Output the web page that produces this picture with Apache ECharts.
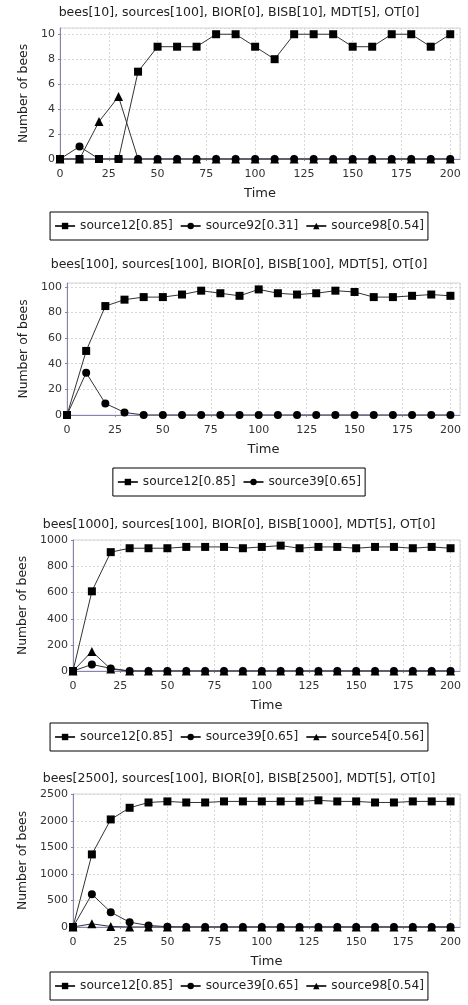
<!DOCTYPE html>
<html>
<head>
<meta charset="utf-8">
<script src="https://cdn.jsdelivr.net/npm/echarts@6/dist/echarts.min.js"></script>
<style>
  html, body { margin: 0; padding: 0; background: #fff; overflow: hidden; }
  #chart { width: 478px; height: 1005px; }
</style>
</head>
<body>
<div id="chart"></div>
<script>
// sample times (x axis)
const times = [0, 10, 20, 30, 40, 50, 60, 70, 80, 90, 100, 110, 120, 130, 140, 150, 160, 170, 180, 190, 200];

// panel 1: bees[10]
const p1Title = 'bees[10], sources[100], BIOR[0], BISB[10], MDT[5], OT[0]';
const p1Src12 = [0, 0, 0, 0, 7, 9, 9, 9, 10, 10, 9, 8, 10, 10, 10, 9, 9, 10, 10, 9, 10];
const p1Src92 = [0, 1, 0, 0, 0, 0, 0, 0, 0, 0, 0, 0, 0, 0, 0, 0, 0, 0, 0, 0, 0];
const p1Src98 = [0, 0, 3, 5, 0, 0, 0, 0, 0, 0, 0, 0, 0, 0, 0, 0, 0, 0, 0, 0, 0];

// panel 2: bees[100]
const p2Title = 'bees[100], sources[100], BIOR[0], BISB[100], MDT[5], OT[0]';
const p2Src12 = [0, 50, 85, 90, 92, 92, 94, 97, 95, 93, 98, 95, 94, 95, 97, 96, 92, 92, 93, 94, 93];
const p2Src39 = [0, 33, 9, 2, 0, 0, 0, 0, 0, 0, 0, 0, 0, 0, 0, 0, 0, 0, 0, 0, 0];

// panel 3: bees[1000]
const p3Title = 'bees[1000], sources[100], BIOR[0], BISB[1000], MDT[5], OT[0]';
const p3Src12 = [0, 610, 910, 940, 940, 940, 950, 950, 950, 940, 950, 960, 940, 950, 950, 940, 950, 950, 940, 950, 940];
const p3Src39 = [0, 50, 20, 0, 0, 0, 0, 0, 0, 0, 0, 0, 0, 0, 0, 0, 0, 0, 0, 0, 0];
const p3Src54 = [0, 150, 15, 0, 0, 0, 0, 0, 0, 0, 0, 0, 0, 0, 0, 0, 0, 0, 0, 0, 0];

// panel 4: bees[2500]
const p4Title = 'bees[2500], sources[100], BIOR[0], BISB[2500], MDT[5], OT[0]';
const p4Src12 = [0, 1370, 2030, 2250, 2350, 2370, 2350, 2350, 2370, 2370, 2370, 2370, 2370, 2390, 2370, 2370, 2350, 2350, 2370, 2370, 2370];
const p4Src39 = [0, 620, 280, 90, 30, 5, 0, 0, 0, 0, 0, 0, 0, 0, 0, 0, 0, 0, 0, 0, 0];
const p4Src98 = [0, 60, 10, 0, 0, 0, 0, 0, 0, 0, 0, 0, 0, 0, 0, 0, 0, 0, 0, 0, 0];

const FONT = 'DejaVu Sans';
const AXIS_BLUE = '#8585b5';
const LINE = '#333';

// container is 478 wide so that 'center' lands at x=239 like the source image
const panels = [
  {
    title: p1Title, titleTop: 6,
    grid: { left: 60, top: 28, width: 400, height: 131 },
    yMax: 10.5, yInterval: 2, yNameGap: 28, legendTop: 212,
    series: [
      { name: 'source12[0.85]', symbol: 'rect', data: p1Src12 },
      { name: 'source92[0.31]', symbol: 'circle', data: p1Src92 },
      { name: 'source98[0.54]', symbol: 'triangle', data: p1Src98 }
    ]
  },
  {
    title: p2Title, titleTop: 258,
    grid: { left: 67, top: 283, width: 393, height: 132 },
    yMax: 103, yInterval: 20, yNameGap: 36, legendTop: 468,
    series: [
      { name: 'source12[0.85]', symbol: 'rect', data: p2Src12 },
      { name: 'source39[0.65]', symbol: 'circle', data: p2Src39 }
    ]
  },
  {
    title: p3Title, titleTop: 518,
    grid: { left: 73, top: 540, width: 387, height: 131 },
    yMax: 1003, yInterval: 200, yNameGap: 41, legendTop: 723,
    series: [
      { name: 'source12[0.85]', symbol: 'rect', data: p3Src12 },
      { name: 'source39[0.65]', symbol: 'circle', data: p3Src39 },
      { name: 'source54[0.56]', symbol: 'triangle', data: p3Src54 }
    ]
  },
  {
    title: p4Title, titleTop: 772,
    grid: { left: 73, top: 794, width: 387, height: 133 },
    yMax: 2510, yInterval: 500, yNameGap: 41, legendTop: 972,
    series: [
      { name: 'source12[0.85]', symbol: 'rect', data: p4Src12 },
      { name: 'source39[0.65]', symbol: 'circle', data: p4Src39 },
      { name: 'source98[0.54]', symbol: 'triangle', data: p4Src98 }
    ]
  }
];

const chart = echarts.init(document.getElementById('chart'));

const option = {
  backgroundColor: '#fff',
  animation: false,
  title: [], grid: [], xAxis: [], yAxis: [], legend: [], series: []
};

panels.forEach((p, i) => {
  option.title.push({
    text: p.title, left: 'center', top: p.titleTop, padding: 0,
    textStyle: { fontFamily: FONT, fontSize: 12.5, fontWeight: 'normal', color: '#222' }
  });
  option.grid.push(Object.assign({
    show: true, borderColor: '#d5d5d5', borderWidth: 1, backgroundColor: '#fff'
  }, p.grid));
  option.xAxis.push({
    gridIndex: i, type: 'value', min: 0, max: 205, interval: 25,
    name: 'Time', nameLocation: 'middle', nameGap: 28,
    nameTextStyle: { fontFamily: FONT, fontSize: 13, color: '#222' },
    axisLine: { lineStyle: { color: AXIS_BLUE } },
    axisTick: { show: true, length: 2, lineStyle: { color: '#888' } },
    axisLabel: { fontFamily: FONT, fontSize: 11, color: '#333', margin: 10, showMaxLabel: false },
    splitLine: { show: true, lineStyle: { color: '#d8d8d8', type: [2, 2] } }
  });
  option.yAxis.push({
    gridIndex: i, type: 'value', min: 0, max: p.yMax, interval: p.yInterval,
    name: 'Number of bees', nameLocation: 'middle', nameGap: p.yNameGap,
    nameTextStyle: { fontFamily: FONT, fontSize: 12.4, color: '#222' },
    axisLine: { show: true, lineStyle: { color: AXIS_BLUE } },
    axisTick: { show: true, length: 2, lineStyle: { color: '#888' } },
    axisLabel: {
      fontFamily: FONT, fontSize: 11, color: '#333', margin: 5, showMaxLabel: false,
      formatter: v => String(v)
    },
    splitLine: { show: true, lineStyle: { color: '#d8d8d8', type: [2, 2] } }
  });
  option.legend.push({
    left: 'center', top: p.legendTop,
    data: p.series.map(s => s.name),
    borderColor: '#000', borderWidth: 1, padding: [8, 4],
    itemWidth: 20, itemHeight: 8, itemGap: 7,
    textStyle: { fontFamily: FONT, fontSize: 12.2, color: '#222' },
    selectedMode: false
  });
  // later series drawn first so the first series sits on top, as in the source
  p.series.slice().reverse().forEach(s => {
    option.series.push({
      type: 'line', name: s.name, xAxisIndex: i, yAxisIndex: i,
      symbol: s.symbol, symbolSize: s.symbol === 'triangle' ? 9 : 8,
      showAllSymbol: true,
      lineStyle: { color: LINE, width: 1 },
      itemStyle: { color: '#000' },
      data: times.map((t, k) => [t, s.data[k]])
    });
  });
});

chart.setOption(option);
</script>
</body>
</html>
